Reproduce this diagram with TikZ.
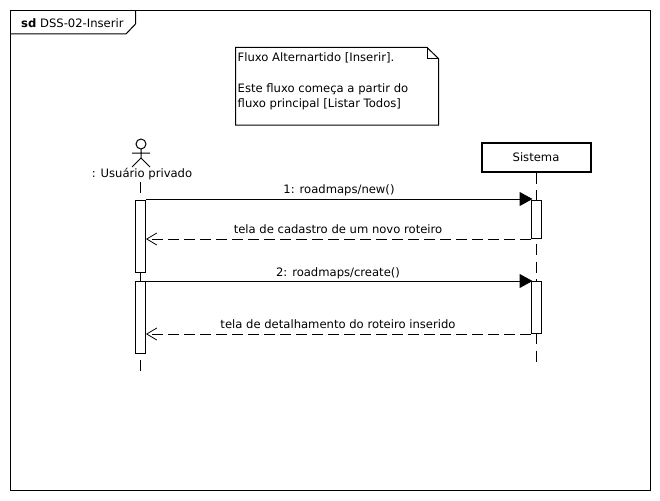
\documentclass[tikz,border=0pt]{standalone}
\usepackage{fontspec}
\setmainfont{DejaVu Sans}
\usetikzlibrary{arrows.meta}
\tikzset{
  Ativacao/.style={draw, fill=white, line width=1pt, minimum width=10pt, inner sep=0pt, anchor=north},
  Linha/.style={line width=1pt, dash pattern=on 11pt off 6.8pt},
  Chamada/.style={line width=1pt, -{Triangle[length=13pt,width=14pt]}, shorten >=-1.5pt},
  Retorno/.style={line width=1pt, dash pattern=on 11pt off 5pt, -{Straight Barb[length=10pt,width=12pt,line width=.8pt]}},
  Texto/.style={font=\fontsize{11.6}{15.4}\selectfont, inner sep=0pt}
}
\begin{document}
\begin{tikzpicture}[x=1pt, y=-1pt]
\useasboundingbox (0,0) rectangle (660,500);
% frame
\draw[line width=1pt] (10.5,10.5) rectangle (650.5,490);
\draw[line width=1pt] (10.5,34) -- (126,34) -- (135.5,24) -- (135.5,10.5);
\node[Texto, anchor=west] (titulo) at (21,23.5) {\textbf{sd} DSS-02-Inserir};
% note
\draw[line width=1pt] (235.5,47.5) -- (427,47.5) -- (438.5,58.5) -- (438.5,125) -- (235.5,125) -- cycle;
\draw[line width=1pt] (427,47.5) -- (427,58.5) -- (438.5,58.5);
\node[Texto, anchor=north west, align=left] (nota) at (237.5,52.5) {Fluxo Alternartido [Inserir].\\~\\Este fluxo começa a partir do\\fluxo principal [Listar Todos]};
% actor
\draw[line width=1pt] (141,144) circle (5);
\draw[line width=1pt] (141,149) -- (141,158) (132,153) -- (150,153) (132,167) -- (141,158) -- (150,167);
\node[Texto] (usuario) at (142,174.5) {: Usuário privado};
\node[draw, line width=2pt, minimum width=109pt, minimum height=29pt, inner sep=0pt, font=\fontsize{11.6}{15.4}\selectfont] (sistema) at (536,157) {Sistema};
% lifelines
\coordinate (fimU) at (140.5,372);
\coordinate (iniU) at (140.5,182);
\coordinate (fimS) at (536.5,363);
\draw[Linha] (iniU) -- (fimU);
\draw[Linha] (sistema.south -| fimS) -- (fimS);
% activations
\node[Ativacao, minimum height=72pt] (u1) at (140.5,200) {};
\node[Ativacao, minimum height=72pt] (u2) at (140.5,281) {};
\node[Ativacao, minimum height=38pt] (s1) at (536.5,200) {};
\node[Ativacao, minimum height=52pt] (s2) at (536.5,281) {};
% messages
\coordinate (m1) at ([yshift=1pt]u1.north east);
\draw[Chamada] (m1) -- (m1 -| s1.west);
\draw[Retorno] (s1.south west) -- (s1.south west -| u1.east);
\draw[Chamada] (u2.north east) -- (s2.north west);
\draw[Retorno] (s2.south west) -- (s2.south west -| u2.east);
\node[Texto] (l1) at (339,190.5) {1: roadmaps/new()};
\node[Texto] (l2) at (338,229.5) {tela de cadastro de um novo roteiro};
\node[Texto] (l3) at (338,273) {2: roadmaps/create()};
\node[Texto] (l4) at (338,324.5) {tela de detalhamento do roteiro inserido};
\end{tikzpicture}
\end{document}
